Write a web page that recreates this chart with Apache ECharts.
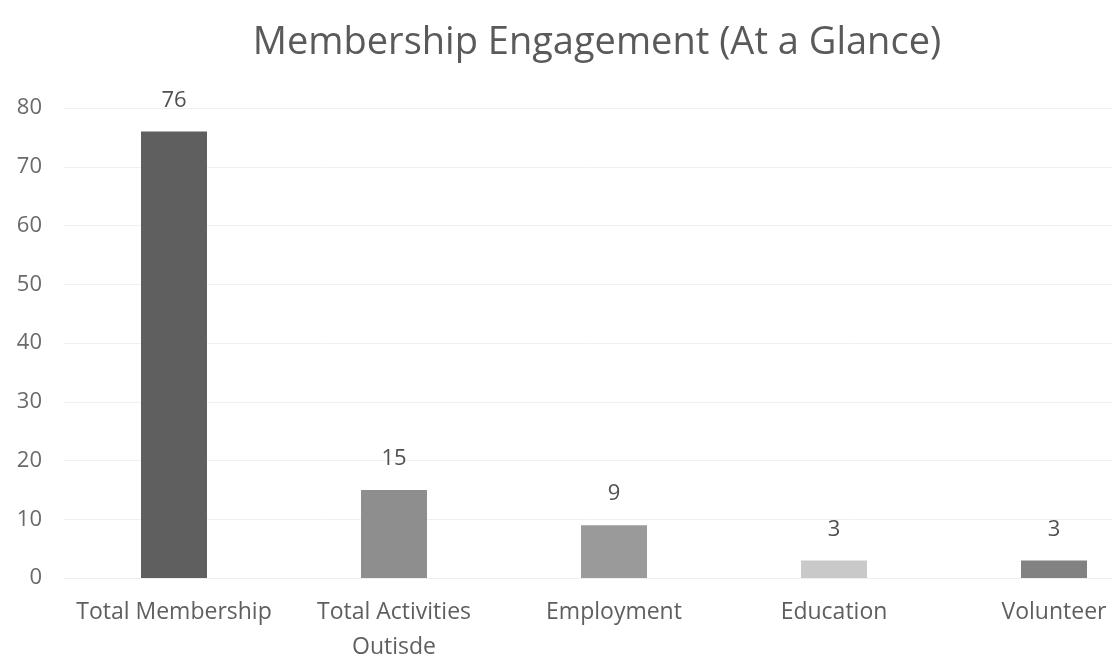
<!DOCTYPE html>
<html>
<head>
<meta charset="utf-8">
<script src="https://cdn.jsdelivr.net/npm/echarts@6/dist/echarts.min.js"></script>
<style>
  html, body { margin: 0; padding: 0; background: #ffffff; }
  #chart { width: 1112px; height: 661px; }
</style>
</head>
<body>
<div id="chart"></div>
<script>
// Membership engagement counts by category
const categories = ['Total Membership', 'Total Activities\nOutisde', 'Employment', 'Education', 'Volunteer'];
const values = [76, 15, 9, 3, 3];
const barColors = ['#5f5f5f', '#8e8e8e', '#9a9a9a', '#c9c9c9', '#828282'];
const yTicks = { min: 0, max: 80, interval: 10 };

const chart = echarts.init(document.getElementById('chart'), null, { renderer: 'canvas' });
const fontFamily = '"Open Sans", "Liberation Sans", sans-serif';

chart.setOption({
  backgroundColor: '#ffffff',
  animation: false,
  title: {
    text: 'Membership Engagement (At a Glance)',
    left: 592,
    textAlign: 'center',
    top: 19,
    textStyle: { fontFamily, fontSize: 38, fontWeight: 'normal', color: '#5a5a5a' }
  },
  grid: { left: 64, width: 1100, top: 108, height: 470, containLabel: false, outerBoundsMode: 'none' },
  xAxis: {
    type: 'category',
    data: categories,
    axisLine: { show: true, lineStyle: { color: '#eeeeee' } },
    axisTick: { show: false },
    axisLabel: {
      fontFamily, fontSize: 23, color: '#5f5f5f', margin: 17, lineHeight: 35, interval: 0
    }
  },
  yAxis: {
    type: 'value',
    min: yTicks.min, max: yTicks.max, interval: yTicks.interval,
    axisLine: { show: false },
    axisTick: { show: false },
    splitLine: { lineStyle: { color: '#f0f0f0', width: 1 } },
    axisLabel: { fontFamily, fontSize: 22, color: '#6a6a6a', margin: 22 }
  },
  series: [{
    type: 'bar',
    barWidth: '30%',
    data: values.map((v, i) => ({ value: v, itemStyle: { color: barColors[i] } })),
    label: {
      show: true, position: 'top', distance: 20,
      fontFamily, fontSize: 22, color: '#505050'
    }
  }]
});
</script>
</body>
</html>
